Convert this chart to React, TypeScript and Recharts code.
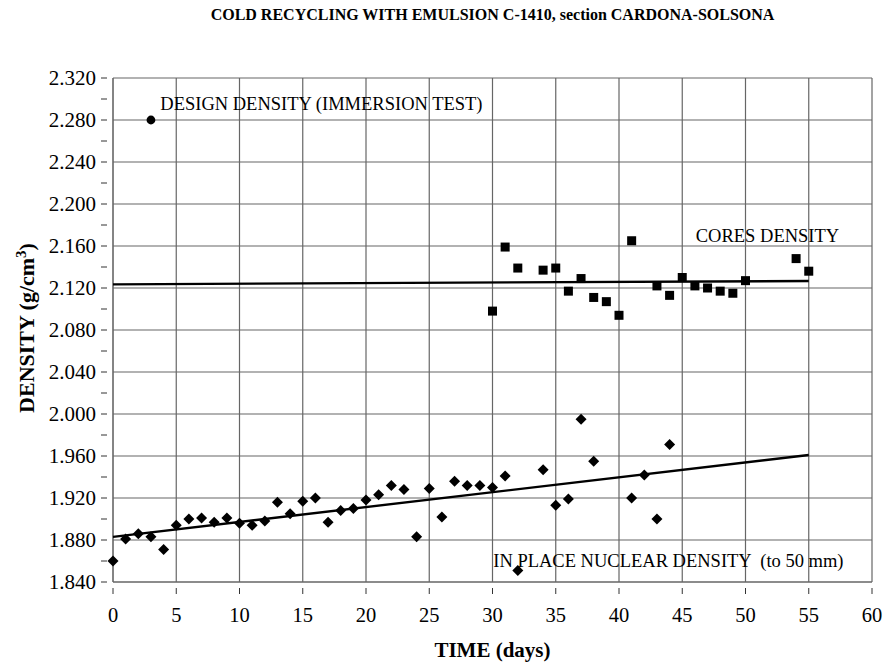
import { ComposedChart, Scatter, XAxis, YAxis, CartesianGrid, ReferenceDot } from 'recharts'

const FONT = '"Liberation Serif", "Times New Roman", serif'

const nuclearDays = [0, 1, 2, 3, 4, 5, 6, 7, 8, 9, 10, 11, 12, 13, 14, 15, 16, 17, 18, 19, 20, 21, 22, 23, 24, 25, 26, 27, 28, 29, 30, 31, 32, 34, 35, 36, 37, 38, 41, 42, 43, 44]
const nuclearDensity = [1.860, 1.881, 1.886, 1.883, 1.871, 1.894, 1.900, 1.901, 1.897, 1.901, 1.896, 1.894, 1.898, 1.916, 1.905, 1.917, 1.920, 1.897, 1.908, 1.910, 1.918, 1.923, 1.932, 1.928, 1.883, 1.929, 1.902, 1.936, 1.932, 1.932, 1.930, 1.941, 1.851, 1.947, 1.913, 1.919, 1.995, 1.955, 1.920, 1.942, 1.900, 1.971]

const coreDays = [30, 31, 32, 34, 35, 36, 37, 38, 39, 40, 41, 43, 44, 45, 46, 47, 48, 49, 50, 54, 55]
const coreDensity = [2.098, 2.159, 2.139, 2.137, 2.139, 2.117, 2.129, 2.111, 2.107, 2.094, 2.165, 2.122, 2.113, 2.130, 2.122, 2.120, 2.117, 2.115, 2.127, 2.148, 2.136]

const designDays = [3]
const designDensity = [2.28]

// trend lines (end points)
const nuclearTrendDays = [0, 55]
const nuclearTrendDensity = [1.883, 1.961]
const coreTrendDays = [0, 55]
const coreTrendDensity = [2.1235, 2.1267]

const xTicks = [0, 5, 10, 15, 20, 25, 30, 35, 40, 45, 50, 55, 60]
const yTicks = [1.84, 1.86, 1.88, 1.90, 1.92, 1.94, 1.96, 1.98, 2.00, 2.02, 2.04, 2.06, 2.08, 2.10, 2.12, 2.14, 2.16, 2.18, 2.20, 2.22, 2.24, 2.26, 2.28, 2.30, 2.32]
const yMajor = [1.84, 1.88, 1.92, 1.96, 2.00, 2.04, 2.08, 2.12, 2.16, 2.20, 2.24, 2.28, 2.32]

const toPoints = (xs: number[], ys: number[]) => xs.map((x, i) => ({ x, y: ys[i] }))

const nuclear = toPoints(nuclearDays, nuclearDensity)
const cores = toPoints(coreDays, coreDensity)
const design = toPoints(designDays, designDensity)
const nuclearTrend = toPoints(nuclearTrendDays, nuclearTrendDensity)
const coreTrend = toPoints(coreTrendDays, coreTrendDensity)

const Diamond = (props: any) => {
  const { cx, cy } = props
  const r = 5.5
  return <polygon points={`${cx},${cy - r} ${cx + r},${cy} ${cx},${cy + r} ${cx - r},${cy}`} fill="#000" />
}

const Square = (props: any) => {
  const { cx, cy } = props
  return <rect x={cx - 4.5} y={cy - 4.5} width={9} height={9} fill="#000" />
}

const Dot = (props: any) => <circle cx={props.cx} cy={props.cy} r={4.4} fill="#000" />

const NoMark = () => <g />

const isMajor = (v: number) => yMajor.some((m) => Math.abs(m - v) < 1e-6)

const XTick = (props: any) => {
  const { x, y, payload } = props
  return (
    <g>
      <line x1={x} x2={x} y1={y - 19} y2={y - 13} stroke="#333" />
      <text x={x} y={y} dy="0.71em" textAnchor="middle" fontFamily={FONT} fontSize={20.5} fill="#000">
        {payload.value}
      </text>
    </g>
  )
}

const YTick = (props: any) => {
  const { x, y, payload } = props
  const v = payload.value as number
  return (
    <g>
      <line x1={x + 4} x2={x + 10} y1={y} y2={y} stroke="#333" />
      {isMajor(v) && (
        <text x={x - 1} y={y} dy="0.35em" textAnchor="end" fontFamily={FONT} fontSize={21} fill="#000">
          {v.toFixed(3)}
        </text>
      )}
    </g>
  )
}

const noteLabel = (text: string) => (props: any) => {
  const { viewBox } = props
  return (
    <text x={viewBox.x} y={viewBox.y} dy="0.35em" fontFamily={FONT} fontSize={18.5} fill="#000" style={{ whiteSpace: 'pre' }}>
      {text}
    </text>
  )
}

export default function App() {
  return (
    <div style={{ width: 887, height: 665, background: '#fff' }}>
      <style>{'body{margin:0}'}</style>
      <ComposedChart width={887} height={665} margin={{ top: 78, right: 15, left: 0, bottom: 0 }}>
        <text x={492.5} y={14} dy="0.35em" textAnchor="middle" fontFamily={FONT} fontWeight="bold" fontSize={16}>
          COLD RECYCLING WITH EMULSION C-1410, section CARDONA-SOLSONA
        </text>
        <CartesianGrid stroke="#666" strokeWidth={1.2} horizontalValues={yMajor} verticalValues={xTicks} />
        <XAxis
          type="number"
          dataKey="x"
          domain={[0, 60]}
          ticks={xTicks}
          interval={0}
          height={83}
          stroke="#666"
          tickLine={false}
          tickSize={6}
          tickMargin={19}
          tick={XTick}
          label={{
            content: () => (
              <text x={492.5} y={650} dy="0.35em" textAnchor="middle" fontFamily={FONT} fontWeight="bold" fontSize={21}>
                TIME (days)
              </text>
            ),
          }}
        />
        <YAxis
          type="number"
          dataKey="y"
          domain={[1.84, 2.32]}
          ticks={yTicks}
          interval={0}
          width={113}
          stroke="#666"
          tickLine={false}
          tickSize={6}
          tickMargin={10}
          tick={YTick}
          label={{
            content: () => (
              <text
                x={26}
                y={328}
                dy="0.35em"
                textAnchor="middle"
                transform="rotate(-90 26 328)"
                fontFamily={FONT}
                fontWeight="bold"
                fontSize={22}
              >
                DENSITY (g/cm<tspan dy="-8" fontSize={15}>3</tspan>
                <tspan dy="8">)</tspan>
              </text>
            ),
          }}
        />
        <Scatter data={coreTrend} shape={NoMark} line={{ stroke: '#000', strokeWidth: 2.4 }} lineType="joint" isAnimationActive={false} />
        <Scatter data={nuclearTrend} shape={NoMark} line={{ stroke: '#000', strokeWidth: 2.4 }} lineType="joint" isAnimationActive={false} />
        <Scatter data={nuclear} shape={Diamond} isAnimationActive={false} />
        <Scatter data={cores} shape={Square} isAnimationActive={false} />
        <Scatter data={design} shape={Dot} isAnimationActive={false} />
        <ReferenceDot x={3.74} y={2.2954} r={0} ifOverflow="visible" label={{ content: noteLabel('DESIGN DENSITY (IMMERSION TEST)') }} />
        <ReferenceDot x={46.07} y={2.17} r={0} ifOverflow="visible" label={{ content: noteLabel('CORES DENSITY') }} />
        <ReferenceDot x={30.06} y={1.8602} r={0} ifOverflow="visible" label={{ content: noteLabel('IN PLACE NUCLEAR DENSITY  (to 50 mm)') }} />
      </ComposedChart>
    </div>
  )
}
